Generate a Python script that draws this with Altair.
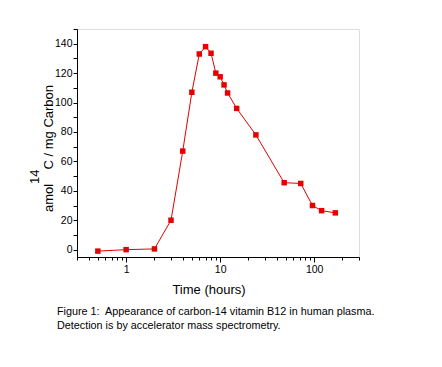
import altair as alt
import pandas as pd

# data
time_h = [0.5, 1, 2, 3, 4, 5, 6, 7, 8, 9, 10, 11, 12, 15, 24, 48, 72, 96, 120, 168]
amol = [-1, 0, 0.5, 20, 67, 107, 133, 138, 133.5, 120, 117.5, 112, 106.5, 96, 78, 45.5, 45, 30, 26.5, 25]

x_major = [1, 10, 100]
x_minor = [0.3, 0.4, 0.5, 0.6, 0.7, 0.8, 0.9, 2, 3, 4, 5, 6, 7, 8, 9,
           20, 30, 40, 50, 60, 70, 80, 90, 200, 300]
y_ticks = list(range(0, 151, 10))

caption1 = "Figure 1:\u00a0 Appearance of carbon-14 vitamin B12 in human plasma."
caption2 = "Detection is by accelerator mass spectrometry."

df = pd.DataFrame({"t": time_h, "v": amol})

FONT = "Liberation Sans"
RED = "#e60000"

xscale = alt.Scale(type="log", domain=[0.3, 300], nice=False)
yscale = alt.Scale(domain=[-5, 150], nice=False, zero=False)

base = alt.Chart(df)

line = base.mark_line(color=RED, strokeWidth=1).encode(
    x=alt.X("t:Q", scale=xscale,
            axis=alt.Axis(orient="bottom", values=x_major, format="~g", title=None,
                          tickSize=5, labelFontSize=10.5, labelPadding=2, grid=False,
                          domainColor="black", tickColor="black", labelColor="black",
                          labelFont=FONT)),
    y=alt.Y("v:Q", scale=yscale,
            axis=alt.Axis(orient="left", values=y_ticks, title=None, tickSize=4,
                          labelFontSize=10.5, labelPadding=1, grid=False,
                          labelExpr="datum.value % 20 == 0 ? datum.label : ''",
                          domainColor="black", tickColor="black", labelColor="black",
                          labelFont=FONT)),
)

pts = base.mark_point(shape="square", filled=True, color=RED, size=30, opacity=1).encode(
    x=alt.X("t:Q", scale=xscale, axis=None),
    y=alt.Y("v:Q", scale=yscale, axis=None),
)

minor = base.mark_point(opacity=0).encode(
    x=alt.X("t:Q", scale=xscale,
            axis=alt.Axis(orient="bottom", values=x_minor, labels=False, domain=False,
                          title=None, tickSize=3, grid=False, tickColor="black")),
    y=alt.Y("v:Q", scale=yscale, axis=None),
)


def txt(s, x, y, size, angle=0, align="left", baseline="alphabetic"):
    kw = dict(font=FONT, fontSize=size, align=align, baseline=baseline, color="black")
    if angle:
        kw["angle"] = angle
    return alt.Chart(pd.DataFrame({"s": [s]})).mark_text(**kw).encode(
        text="s:N", x=alt.value(x), y=alt.value(y))


OX, OY = 77, 29  # plot origin on the page

texts = [
    txt("Time (hours)", 209 - OX, 293.5 - OY, 13, align="center"),
    txt("amol", 53 - OX, 212 - OY, 13, angle=270),
    txt("14", 39 - OX, 184 - OY, 13, angle=270),
    txt("C / mg Carbon", 53 - OX, 169.5 - OY, 13, angle=270),
    txt(caption1, 57 - OX, 315 - OY, 10.8),
    txt(caption2, 57 - OX, 328.5 - OY, 10.8),
]

chart = alt.layer(minor, line, pts, *texts).resolve_axis(
    x="independent", y="independent"
).properties(
    width=282, height=228,
    autosize=alt.AutoSizeParams(type="none"),
    padding={"left": 69, "top": 21, "right": 75, "bottom": 102},
).configure_view(stroke=None).configure(background="white")

chart.save("out.html", embed_options={"renderer": "svg", "actions": False})
